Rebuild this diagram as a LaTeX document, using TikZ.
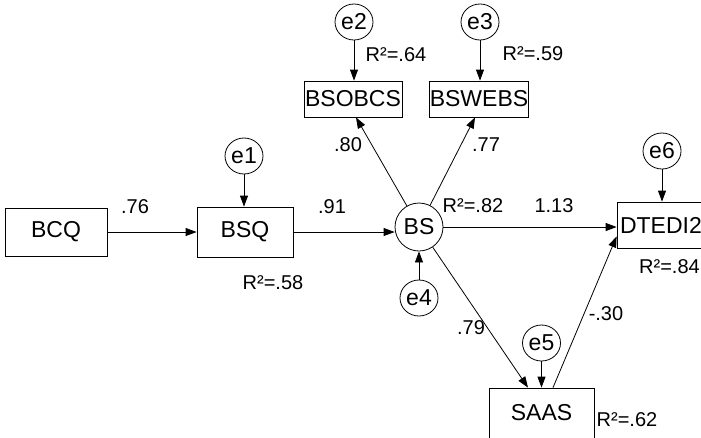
\documentclass[tikz,border=0pt]{standalone}
\usepackage{fontspec}
\setmainfont{Liberation Sans}
\usetikzlibrary{arrows.meta,shapes.geometric,calc}
\newcommand{\boxfnt}{\fontsize{23}{27}\selectfont}
\newcommand{\lblfnt}{\fontsize{20}{24}\selectfont}
\begin{document}
\begin{tikzpicture}[x=1pt,y=-1pt,
  obsbox/.style={draw, line width=0.8pt, inner sep=0pt, font=\boxfnt},
  errnode/.style={ellipse, draw, line width=0.8pt, minimum width=38pt, minimum height=36pt, inner sep=0pt, font=\boxfnt},
  latnode/.style={circle, draw, line width=0.8pt, minimum size=48pt, inner sep=0pt, font=\boxfnt},
  lbl/.style={inner sep=0pt, font=\lblfnt},
  arr/.style={line width=0.8pt, -{Triangle[length=11pt,width=8pt]}},
  plain/.style={line width=0.8pt}]
\useasboundingbox (0,0) rectangle (701,437);
\fill[white] (0,0) rectangle (701,437);
% observed boxes
\node[obsbox, minimum width=102pt, minimum height=48pt] (BCQ) at (56,232) {BCQ};
\node[obsbox, minimum width=96pt, minimum height=50pt] (BSQ) at (245,232) {BSQ};
\node[obsbox, minimum width=98pt, minimum height=36pt] (BSOBCS) at (353,99) {BSOBCS};
\node[obsbox, minimum width=95pt, minimum height=36pt] (BSWEBS) at (479,99) {BSWEBS};
\node[obsbox, minimum height=46pt, text width=94pt, inner xsep=3pt, align=left] (DTEDI2) at (667,225) {DTEDI2};
\node[obsbox, minimum width=105pt, minimum height=50pt] (SAAS) at (541.5,413) {SAAS};
% latent
\node[latnode] (BS) at (419,227) {BS};
% errors
\node[errnode] (e1) at (244,156) {e1};
\node[errnode] (e2) at (354,22) {e2};
\node[errnode] (e3) at (480,22) {e3};
\node[errnode] (e4) at (419,298) {e4};
\node[errnode] (e5) at (541.5,343) {e5};
\node[errnode] (e6) at (662,151) {e6};
% paths
\draw[arr] (BCQ.east) -- (BSQ.west);
\draw[arr] (BSQ.east) -- (BSQ.east -| BS.west);
\draw[arr] (BS.east) -- (BS.east -| DTEDI2.west);
\draw[arr] (BS) -- ($(BSOBCS.south)+(3,0)$);
\draw[arr] (BS) -- ($(BSWEBS.south)+(-4,0)$);
\draw[arr] (BS) -- ($(SAAS.north)+(-13.5,0)$);
\draw[arr] ($(SAAS.north)+(11.5,0)$) -- ($(DTEDI2.south west)+(0,-12)$);
% error arrows
\draw[arr] (e1.south) -- (e1.south |- BSQ.north);
\draw[arr] (e2.south) -- (e2.south |- BSOBCS.north);
\draw[arr] (e3.south) -- (e3.south |- BSWEBS.north);
\draw[arr] (e4.north) -- (e4.north |- BS.south);
\draw[arr] (e5.south) -- (e5.south |- SAAS.north);
\draw[arr] (e6.south) -- (e6.south |- DTEDI2.north);
% labels
\node[lbl] (l76) at (135,207) {.76};
\node[lbl] (l91) at (332,207) {.91};
\node[lbl] (r58) at (273,283) {R²=.58};
\node[lbl] (l80) at (348,145) {.80};
\node[lbl] (l77) at (486,145) {.77};
\node[lbl] (r64) at (396,55) {R²=.64};
\node[lbl] (r59) at (533,54) {R²=.59};
\node[lbl] (r82) at (473,206) {R²=.82};
\node[lbl] (l113) at (554,206) {1.13};
\node[lbl, anchor=west] (r84) at (639,267) {R²=.84};
\node[lbl] (l79) at (471,328) {.79};
\node[lbl] (l30) at (606,314) {-.30};
\node[lbl] (r62) at (627,420) {R²=.62};
\end{tikzpicture}
\end{document}
